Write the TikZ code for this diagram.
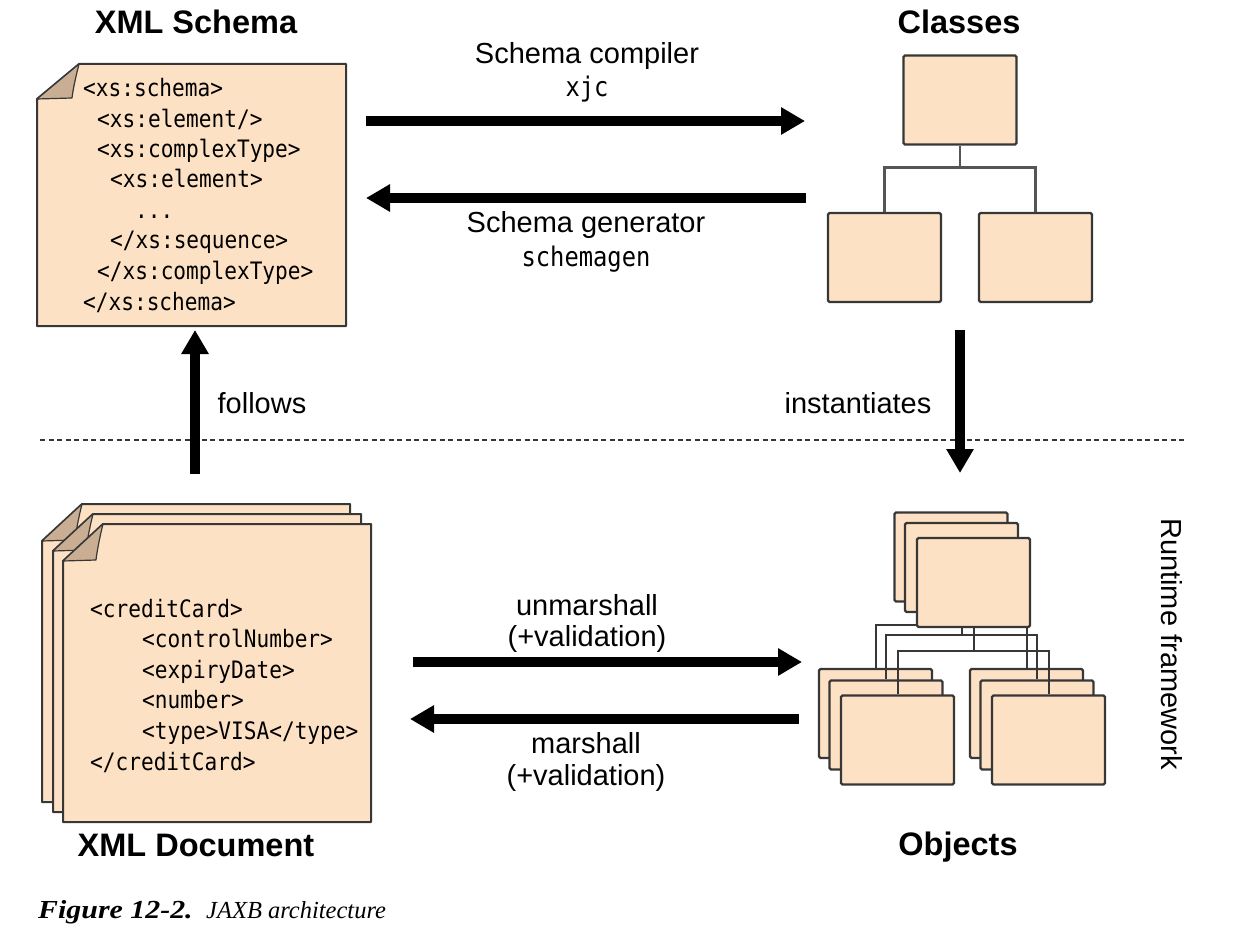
\documentclass[tikz,border=0pt]{standalone}
\usepackage{fontspec}
\setmainfont{Liberation Sans}
\newfontfamily\monof[FakeStretch=0.88]{DejaVu Sans Mono}
\newfontfamily\capf{Liberation Serif}
\newfontfamily\capbf[FakeStretch=1.15]{Liberation Serif Bold Italic}
\usetikzlibrary{arrows.meta}
\definecolor{peach}{RGB}{253,225,196}
\definecolor{flapc}{RGB}{201,174,147}
\definecolor{edgec}{RGB}{55,55,55}
\definecolor{connc}{RGB}{85,85,85}
\tikzset{
  page/.style={fill=peach,draw=edgec,line width=2pt,line join=round},
  flap/.style={fill=flapc,draw=edgec,line width=1.2pt,line join=round},
  box/.style={fill=peach,draw=edgec,line width=2.2pt,rounded corners=1.5pt,minimum width=113pt,minimum height=89pt,inner sep=0pt},
  conn/.style={draw=edgec,line width=2pt},
  cconn/.style={draw=connc,line width=2.5pt},
  bigarrow/.style={line width=10pt,-{Triangle[length=24pt,width=26pt]}},
  code/.style={font=\monof\fontsize{24}{30}\selectfont,anchor=base west,inner sep=0pt},
  cmd/.style={font=\monof\fontsize{27}{32}\selectfont,anchor=base,inner sep=0pt},
  lbl/.style={font=\fontsize{29}{34}\selectfont,anchor=base,inner sep=0pt},
  ttl/.style={font=\bfseries\fontsize{32.5}{38}\selectfont,anchor=base,inner sep=0pt},
}
\newcommand{\docpage}[6]{%
  \filldraw[page] (#1,#2+#6) -- (#1+#5,#2) -- (#3,#2) -- (#3,#4) -- (#1,#4) -- cycle;
  \filldraw[flap] (#1,#2+#6) -- (#1+#5,#2) .. controls (#1+#5-3,#2+12) and (#1+#5-6,#2+#6-10) .. (#1+#5-7,#2+#6-1) -- cycle;}
\begin{document}
\begin{tikzpicture}[x=1pt,y=-1pt]
\useasboundingbox (0,0) rectangle (1255,933);

% titles
\node[ttl] (tschema) at (196,33.5) {XML Schema};
\node[ttl] (tclasses) at (959,33.5) {Classes};
\node[ttl] (tdoc) at (196,856) {XML Document};
\node[ttl] (tobj) at (958,855) {Objects};

% dashed separator
\coordinate (dl) at (40,440);
\coordinate (dr) at (1187,440);
\draw[edgec,line width=1.3pt,dash pattern=on 5pt off 3.5pt] (dl) -- (dr);

% schema document
\docpage{37}{64}{346}{326}{42}{35}
\node[code] (s1) at (83,97) {<xs:schema>};
\node[code] (s2) at (97,127.5) {<xs:element/>};
\node[code] (s3) at (97,158) {<xs:complexType>};
\node[code] (s4) at (110,188) {<xs:element>};
\node[code] (s5) at (135,218.5) {...};
\node[code] (s6) at (110,249) {</xs:sequence>};
\node[code] (s7) at (97,279.5) {</xs:complexType>};
\node[code] (s8) at (83,310) {</xs:schema>};

% XML document stack
\docpage{42}{504}{350}{802}{40}{37}
\docpage{53}{514}{361}{812}{40}{37}
\docpage{63}{524}{371}{822}{40}{37}
\node[code] (d1) at (90,617) {<creditCard>};
\node[code] (d2) at (142,647.6) {<controlNumber>};
\node[code] (d3) at (142,678.2) {<expiryDate>};
\node[code] (d4) at (142,708.8) {<number>};
\node[code] (d5) at (142,739.4) {<type>VISA</type>};
\node[code] (d6) at (90,770) {</creditCard>};

% classes
\node[box] (c0) at (960,100) {};
\node[box] (c1) at (884.5,257.5) {};
\node[box] (c2) at (1035.5,257.5) {};
\draw[cconn] (c0.south) -- ++(0,22) coordinate (cj);
\draw[cconn] (cj) -| (c1.north);
\draw[cconn] (cj) -| (c2.north);

% objects: back level
\node[box] (ob0) at (951,557) {};
\draw[conn] (ob0.south) -- ++(0,22) coordinate (bj);
\node[box] (obl) at (875.5,713.5) {};
\node[box] (obr) at (1026.5,713.5) {};
\draw[conn] (bj) -| (obl.north);
\draw[conn] (bj) -| (obr.north);
% middle level
\node[box] (om0) at (961.5,567.5) {};
\draw[conn] (om0.south) -- ++(0,22) coordinate (mj);
\node[box] (oml) at (886,725) {};
\node[box] (omr) at (1037,725) {};
\draw[conn] (mj) -| (oml.north);
\draw[conn] (mj) -| (omr.north);
% front level
\node[box] (of0) at (973.5,582.5) {};
\node[box] (ofl) at (897.5,740) {};
\node[box] (ofr) at (1048.5,740) {};
\draw[conn] (of0.south) -- ++(0,23) coordinate (fj);
\draw[conn] (fj) -| (ofl.north);
\draw[conn] (fj) -| (ofr.north);

% arrows
\coordinate (a1s) at (366,121); \coordinate (a1e) at (805,121);
\coordinate (a2s) at (806,198); \coordinate (a2e) at (366,198);
\coordinate (fs) at (195,474); \coordinate (fe) at (195,330);
\coordinate (is) at (960,330); \coordinate (ie) at (960,473);
\coordinate (us) at (413,662); \coordinate (ue) at (802,662);
\coordinate (ms) at (799,719); \coordinate (me) at (410,719);
\draw[bigarrow] (a1s) -- (a1e);
\draw[bigarrow] (a2s) -- (a2e);
\draw[bigarrow] (fs) -- (fe);
\draw[bigarrow] (is) -- (ie);
\draw[bigarrow] (us) -- (ue);
\draw[bigarrow] (ms) -- (me);

% labels
\node[lbl] (l1) at (587,64) {Schema compiler};
\node[cmd] (l2) at (587,97) {xjc};
\node[lbl] (l3) at (586,233) {Schema generator};
\node[cmd] (l4) at (586,266) {schemagen};
\node[lbl] (l5) at (262,413.5) {follows};
\node[lbl] (l6) at (858,413) {instantiates};
\node[lbl] (l7) at (587,615.5) {unmarshall};
\node[lbl] (l8) at (587,646) {(+validation)};
\node[lbl] (l9) at (586,753.5) {marshall};
\node[lbl] (l10) at (586,785) {(+validation)};
\node[font=\fontsize{29}{34}\selectfont,rotate=-90,inner sep=0pt] (rt) at (1172,644) {Runtime framework};

% caption
\node[font=\capbf\fontsize{26}{30}\selectfont,anchor=base west,inner sep=0pt] (cap1) at (38,918) {Figure 12-2.};
\node[font=\capf\itshape\fontsize{24.5}{28}\selectfont,anchor=base west,inner sep=0pt] (cap2) at (206,918) {JAXB architecture};
\end{tikzpicture}
\end{document}
